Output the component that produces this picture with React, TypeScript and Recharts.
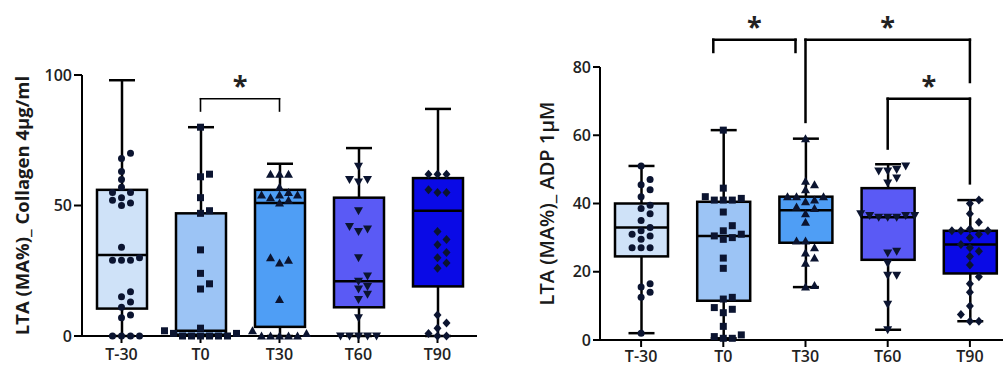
import { ComposedChart, Bar, Scatter, XAxis, YAxis, ReferenceLine } from 'recharts';

// time points
const categories = ['T-30', 'T0', 'T30', 'T60', 'T90'];
const boxColors = ['#cfe2f8', '#9cc4f5', '#4f9ef5', '#5a5af5', '#0a0ae6'];

// LTA (MA%) collagen 4µg/ml — box stats
const colMin = [0, 0, 0, 0, 0];
const colQ1 = [10.5, 0.5, 3.5, 11, 19];
const colMedian = [31, 2, 51, 21, 48];
const colQ3 = [56, 47, 56, 53, 60.5];
const colMax = [98, 80, 66, 72, 87];

// individual subjects
const colPoints = [
  [70, 68, 63, 60, 57, 55, 55, 53, 52, 51, 50, 34, 30, 29, 29, 29, 17, 15, 13, 11, 8, 7, 0, 0, 0, 0],
  [80, 62, 61, 53, 48, 47, 33, 24, 20, 18, 3, 2, 1, 1, 0, 0, 0, 0, 0, 0],
  [62, 62, 62, 57, 55, 54, 54, 54, 53, 52, 51, 30, 29, 28, 14, 2, 1, 0, 0, 0, 0, 0],
  [65, 60, 60, 59, 48, 42, 41, 40, 30, 23, 21, 19, 18, 16, 14, 7, 0, 0, 0, 0, 0],
  [62, 62, 62, 56, 55, 55, 40, 37, 35, 32, 30, 28, 26, 8, 5, 3, 1, 0, 0],
];

// LTA (MA%) ADP 1µM — box stats
const adpMin = [2, 0.5, 15.5, 3, 5.5];
const adpQ1 = [24.5, 11.5, 28.5, 23.5, 19.5];
const adpMedian = [33, 30.5, 38, 36, 28];
const adpQ3 = [40, 40.5, 42, 44.5, 32];
const adpMax = [51, 61.5, 59, 51.5, 41];

const adpPoints = [
  [51, 47, 45.5, 44, 42, 39.5, 38.5, 37, 35, 33, 32, 31, 30.5, 29.5, 27, 27, 27, 16.5, 15.5, 14, 12.5, 2],
  [61.5, 44.5, 42, 41.5, 41, 41, 41, 37.5, 33.5, 32, 31, 30.5, 30, 29.5, 24, 21, 12.5, 12, 9.5, 9, 8, 4, 1.5, 1, 0.5, 0.5],
  [59, 46.5, 45.5, 44, 42, 42, 42, 41, 40.5, 39, 38.5, 37, 34.5, 29, 29, 27, 25.5, 24, 22.5, 16, 15.5],
  [51, 50, 49.5, 49.5, 47.5, 46, 37, 36.5, 36.5, 36, 36, 36, 36.5, 26, 25.5, 22.5, 19, 19, 10.5, 3],
  [41, 40, 37, 34.5, 32.5, 32, 32, 32, 31, 30, 28, 27, 26, 24.5, 22, 18.5, 16.5, 14, 10, 7.5, 5.5, 5.5],
];

// significance brackets: from, to, bar height, left leg end, right leg end
const colBrackets = [{ from: 'T0', to: 'T30', top: 90.9, leftEnd: 86.2, rightEnd: 86.2 }];
const adpBrackets = [
  { from: 'T0', to: 'T30', top: 88, leftEnd: 84.4, rightEnd: 84.4 },
  { from: 'T30', to: 'T90', top: 88, leftEnd: 63.9, rightEnd: 75.6 },
  { from: 'T60', to: 'T90', top: 70.7, leftEnd: 56.1, rightEnd: 45.9 },
];
// the first ADP bracket is nudged left so it doesn't touch the next one
const adpBracketNudge = [-10, 0, 0];

const markers = ['circle', 'square', 'triangle', 'down', 'diamond'];
const FONT = '"Open Sans", "Liberation Sans", sans-serif';

function buildBoxes(min: number[], q1: number[], med: number[], q3: number[], max: number[]) {
  return categories.map((cat, i) => ({
    cat,
    idx: i,
    range: [min[i], max[i]],
    min: min[i],
    q1: q1[i],
    median: med[i],
    q3: q3[i],
    max: max[i],
  }));
}

// simple beeswarm: points with close values get pushed to side slots
function buildPoints(points: number[][], thr: number) {
  const out: any[] = [];
  points.forEach((vals, i) => {
    const placed: { v: number; s: number }[] = [];
    [...vals].sort((a, b) => a - b).forEach((v) => {
      for (let k = 0; k < 20; k++) {
        const cands = k === 0 ? [0] : [k, -k];
        const s = cands.find((c) => !placed.some((p) => p.s === c && Math.abs(p.v - v) < thr));
        if (s !== undefined) {
          placed.push({ v, s });
          out.push({ cat: categories[i], value: v, slot: s, idx: i });
          return;
        }
      }
    });
  });
  return out;
}

const makeBox = (capW: number) => (props: any) => {
  const { x, y, width, height, payload } = props;
  const top = Math.min(y, y + height);
  const bottom = Math.max(y, y + height);
  const { min, max, q1, median, q3, idx } = payload;
  const toY = (v: number) => bottom - ((v - min) / (max - min)) * (bottom - top);
  const cx = x + width / 2;
  return (
    <g>
      <line x1={cx} x2={cx} y1={top} y2={bottom} stroke="#000" strokeWidth={2.5} />
      <line x1={cx - capW / 2} x2={cx + capW / 2} y1={top} y2={top} stroke="#000" strokeWidth={2.5} />
      <line x1={cx - capW / 2} x2={cx + capW / 2} y1={bottom} y2={bottom} stroke="#000" strokeWidth={2.5} />
      <rect x={x} y={toY(q3)} width={width} height={toY(q1) - toY(q3)} fill={boxColors[idx]} stroke="#000" strokeWidth={2.5} />
      <line x1={x} x2={x + width} y1={toY(median)} y2={toY(median)} stroke="#000" strokeWidth={2.5} />
    </g>
  );
};

const makePoint = (spacing: number) => (props: any) => {
  const { cx, cy, payload } = props;
  const px = cx + payload.slot * spacing;
  const kind = markers[payload.idx];
  const c = '#0b1430';
  if (kind === 'circle') return <circle cx={px} cy={cy} r={3.5} fill={c} />;
  if (kind === 'square') return <rect x={px - 3.5} y={cy - 3.5} width={7} height={7} fill={c} />;
  if (kind === 'triangle') return <path d={`M${px},${cy - 4.5}L${px + 4.5},${cy + 3.5}L${px - 4.5},${cy + 3.5}Z`} fill={c} />;
  if (kind === 'down') return <path d={`M${px},${cy + 4.5}L${px + 4.5},${cy - 3.5}L${px - 4.5},${cy - 3.5}Z`} fill={c} />;
  return <path d={`M${px},${cy - 4.5}L${px + 4},${cy}L${px},${cy + 4.5}L${px - 4},${cy}Z`} fill={c} />;
};

const axisTitle = (text: string, dx: number, size: number, weight: number) => ({
  value: text,
  content: (p: any) => {
    const vb = p.viewBox || {};
    const cx = vb.x + dx;
    const cy = vb.y + vb.height / 2;
    return (
      <text
        x={cx}
        y={cy}
        transform={`rotate(-90 ${cx} ${cy})`}
        textAnchor="middle"
        dominantBaseline="central"
        fontFamily={FONT}
        fontSize={size}
        fontWeight={weight}
        fill="#1a1a1a"
      >
        {text}
      </text>
    );
  },
});

function renderBrackets(list: any[], width: number, starGap: number, nudge: number[] = []) {
  const lines: any[] = [];
  list.forEach((b, i) => {
    const dx = nudge[i] || 0;
    const shape = (p: any) => (
      <line x1={p.x1 + dx} y1={p.y1} x2={p.x2 + dx} y2={p.y2} stroke="#000" strokeWidth={width} strokeLinecap="square" />
    );
    const common = { stroke: '#000', strokeWidth: width, ifOverflow: 'visible' as const, shape };
    lines.push(
      <ReferenceLine key={`l${i}`} {...common} segment={[{ x: b.from, y: b.leftEnd }, { x: b.from, y: b.top }]} />,
      <ReferenceLine
        key={`t${i}`}
        {...common}
        segment={[{ x: b.from, y: b.top }, { x: b.to, y: b.top }]}
        label={{ value: '*', position: 'top', offset: starGap, dx, fontSize: 27, fontWeight: 700, fill: '#222', fontFamily: FONT }}
      />,
      <ReferenceLine key={`r${i}`} {...common} segment={[{ x: b.to, y: b.top }, { x: b.to, y: b.rightEnd }]} />,
    );
  });
  return lines;
}

const tickStyle = { fontFamily: FONT, fontSize: 16, fontWeight: 600, fill: '#222' };

export default function App() {
  const colBoxes = buildBoxes(colMin, colQ1, colMedian, colQ3, colMax);
  const adpBoxes = buildBoxes(adpMin, adpQ1, adpMedian, adpQ3, adpMax);
  const colDots = buildPoints(colPoints, 2.7);
  const adpDots = buildPoints(adpPoints, 2.1);

  return (
    <div style={{ position: 'absolute', left: 0, top: 0, width: 1003, height: 371, overflow: 'hidden', background: '#fff' }}>
      <div style={{ position: 'absolute', left: 0, top: 0 }}>
        <ComposedChart width={490} height={371} data={colBoxes} margin={{ top: 75, right: 13, bottom: 5, left: 0 }}>
          <XAxis
            dataKey="cat"
            allowDuplicatedCategory={false}
            height={30}
            tick={tickStyle}
            tickMargin={6}
            tickSize={7}
            axisLine={{ stroke: '#000', strokeWidth: 2 }}
            tickLine={{ stroke: '#000', strokeWidth: 2 }}
          />
          <YAxis
            type="number"
            domain={[0, 100]}
            ticks={[0, 50, 100]}
            width={82}
            tick={tickStyle}
            tickSize={8}
            tickMargin={2}
            axisLine={{ stroke: '#000', strokeWidth: 2 }}
            tickLine={{ stroke: '#000', strokeWidth: 2 }}
            label={axisTitle('LTA (MA%)_ Collagen 4µg/ml', 21, 18.5, 700)}
          />
          <Bar dataKey="range" barSize={50} shape={makeBox(26)} isAnimationActive={false} />
          <Scatter data={colDots} dataKey="value" shape={makePoint(9)} isAnimationActive={false} />
          {renderBrackets(colBrackets, 1.6, 4)}
        </ComposedChart>
      </div>
      <div style={{ position: 'absolute', left: 510, top: 0 }}>
        <ComposedChart width={501} height={371} data={adpBoxes} margin={{ top: 67, right: 0, bottom: 3, left: 0 }}>
          <XAxis
            dataKey="cat"
            allowDuplicatedCategory={false}
            height={28}
            tick={tickStyle}
            tickMargin={4}
            tickSize={7}
            axisLine={{ stroke: '#000', strokeWidth: 2 }}
            tickLine={{ stroke: '#000', strokeWidth: 2 }}
          />
          <YAxis
            type="number"
            domain={[0, 80]}
            ticks={[0, 20, 40, 60, 80]}
            width={90}
            tick={tickStyle}
            tickSize={7}
            tickMargin={2}
            axisLine={{ stroke: '#000', strokeWidth: 2 }}
            tickLine={{ stroke: '#000', strokeWidth: 2 }}
            label={axisTitle('LTA (MA%)_ ADP 1µM', 36, 20, 600)}
          />
          <Bar dataKey="range" barSize={53} shape={makeBox(26)} isAnimationActive={false} />
          <Scatter data={adpDots} dataKey="value" shape={makePoint(9)} isAnimationActive={false} />
          {renderBrackets(adpBrackets, 2.5, 4, adpBracketNudge)}
        </ComposedChart>
      </div>
    </div>
  );
}
